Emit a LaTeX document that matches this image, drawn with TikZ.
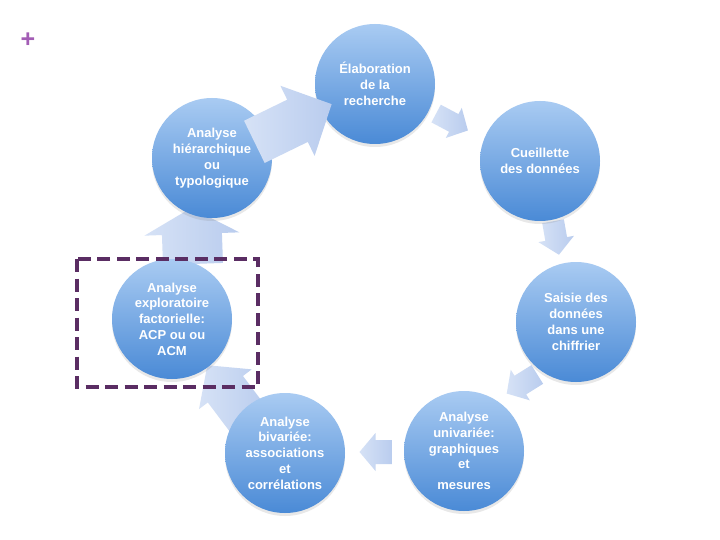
\documentclass[tikz,border=0pt]{standalone}
\usepackage{fontspec}
\setmainfont{Liberation Sans}
\usetikzlibrary{shadows}
\definecolor{ctop}{HTML}{A9CBF2}
\definecolor{cbot}{HTML}{4A8AD6}
\definecolor{atop}{HTML}{D6E2F6}
\definecolor{abot}{HTML}{B9CCEE}
\definecolor{dashpurple}{HTML}{5A2D63}
\definecolor{pluspurple}{HTML}{A35DB5}
\tikzset{
  stage/.style={circle, minimum size=120pt, inner sep=0pt, top color=ctop, bottom color=cbot,
    draw=none, text=white, align=center, font=\bfseries\fontsize{13}{15.8}\selectfont,
    drop shadow={opacity=0.18, shadow xshift=0pt, shadow yshift=-3pt}},
  arrowfill/.style={left color=atop, right color=abot, draw=none},
  highlight/.style={draw=dashpurple, line width=4pt, dash pattern=on 13pt off 6.5pt},
}
\newcommand{\blockarr}[7]{%
  \begin{scope}[shift={(#1,#2)}, rotate=#3]
    \path[arrowfill] ({-#4/2},{-#5/2}) -- ({#4/2-#7},{-#5/2}) -- ({#4/2-#7},{-#6/2})
      -- ({#4/2},0) -- ({#4/2-#7},{#6/2}) -- ({#4/2-#7},{#5/2}) -- ({-#4/2},{#5/2}) -- cycle;
  \end{scope}}
\begin{document}
\begin{tikzpicture}[x=1pt, y=-1pt]
\fill[white] (0,0) rectangle (720,540);
\useasboundingbox (0,0) rectangle (720,540);
\node[text=pluspurple, font=\bfseries\fontsize{25}{25}\selectfont] (plus) at (28,40) {+};
% arrows behind circles
\blockarr{452}{122}{-28}{36}{20}{34}{16}
\blockarr{556}{238}{-80}{34}{22}{36}{16}
\blockarr{522}{384}{212}{36}{22}{36}{16}
\blockarr{376}{452}{180}{33}{24}{38}{16}
\blockarr{229}{394}{127}{72}{44}{66}{30}
\blockarr{192}{236}{92}{56}{60}{95}{26}
% circles
\node[stage] (elab) at (375,84) {Élaboration\\de la\\recherche};
\node[stage] (cueil) at (540,161) {Cueillette\\des données};
\node[stage] (saisie) at (576,322) {Saisie des\\données\\dans une\\chiffrier};
\node[stage] (univ) at (464,451) {Analyse\\univariée:\\graphiques\\et\\[5pt]mesures};
\node[stage] (biv) at (285,453) {Analyse\\bivariée:\\associations\\et\\corrélations};
\node[stage] (explo) at (172,319) {Analyse\\exploratoire\\factorielle:\\ACP ou ou\\ACM};
\node[stage] (hier) at (212,158) {Analyse\\hiérarchique\\ou\\typologique};
% big arrow over circles
\blockarr{293}{123}{26}{86}{47}{78}{38}
% highlight box
\draw[highlight] (77,259) rectangle (258,387);
\end{tikzpicture}
\end{document}
